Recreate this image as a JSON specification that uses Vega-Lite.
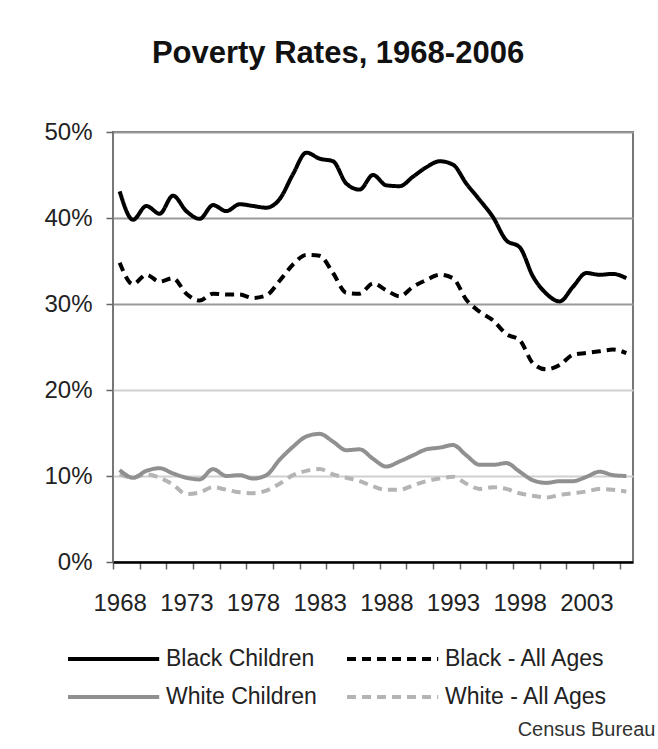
{
  "$schema": "https://vega.github.io/schema/vega-lite/v6.json",
  "width": 520,
  "height": 430,
  "autosize": {"type": "none"},
  "padding": {"left": 113, "top": 132, "right": 25, "bottom": 187},
  "background": "white",
  "config": {"font": "Liberation Sans", "view": {"stroke": "#777777", "strokeWidth": 2}},
  "title": {"text": "Poverty Rates, 1968-2006", "fontSize": 31, "fontWeight": "bold", "color": "#111111", "anchor": "middle", "dx": -35, "offset": 50},
  "datasets": {
    "rates": [
      {"year": 1968, "Black Children": 43.1, "Black - All Ages": 34.8, "White Children": 10.7, "White - All Ages": 10.2},
      {"year": 1969, "Black Children": 39.8, "Black - All Ages": 32.3, "White Children": 9.8, "White - All Ages": 9.8},
      {"year": 1970, "Black Children": 41.4, "Black - All Ages": 33.4, "White Children": 10.6, "White - All Ages": 10.2},
      {"year": 1971, "Black Children": 40.5, "Black - All Ages": 32.6, "White Children": 10.9, "White - All Ages": 9.8},
      {"year": 1972, "Black Children": 42.6, "Black - All Ages": 33.0, "White Children": 10.3, "White - All Ages": 9.0},
      {"year": 1973, "Black Children": 40.8, "Black - All Ages": 31.2, "White Children": 9.8, "White - All Ages": 7.9},
      {"year": 1974, "Black Children": 39.9, "Black - All Ages": 30.4, "White Children": 9.6, "White - All Ages": 8.1},
      {"year": 1975, "Black Children": 41.5, "Black - All Ages": 31.2, "White Children": 10.8, "White - All Ages": 8.7},
      {"year": 1976, "Black Children": 40.8, "Black - All Ages": 31.1, "White Children": 10.0, "White - All Ages": 8.4},
      {"year": 1977, "Black Children": 41.6, "Black - All Ages": 31.1, "White Children": 10.1, "White - All Ages": 8.1},
      {"year": 1978, "Black Children": 41.4, "Black - All Ages": 30.7, "White Children": 9.7, "White - All Ages": 8.0},
      {"year": 1979, "Black Children": 41.2, "Black - All Ages": 31.0, "White Children": 10.1, "White - All Ages": 8.3},
      {"year": 1980, "Black Children": 42.2, "Black - All Ages": 32.7, "White Children": 11.9, "White - All Ages": 9.1},
      {"year": 1981, "Black Children": 45.1, "Black - All Ages": 34.6, "White Children": 13.4, "White - All Ages": 10.1},
      {"year": 1982, "Black Children": 47.6, "Black - All Ages": 35.7, "White Children": 14.6, "White - All Ages": 10.6},
      {"year": 1983, "Black Children": 46.9, "Black - All Ages": 35.6, "White Children": 14.9, "White - All Ages": 10.8},
      {"year": 1984, "Black Children": 46.6, "Black - All Ages": 33.6, "White Children": 14.0, "White - All Ages": 10.2},
      {"year": 1985, "Black Children": 44.0, "Black - All Ages": 31.3, "White Children": 13.0, "White - All Ages": 9.8},
      {"year": 1986, "Black Children": 43.3, "Black - All Ages": 31.2, "White Children": 13.1, "White - All Ages": 9.4},
      {"year": 1987, "Black Children": 45.0, "Black - All Ages": 32.4, "White Children": 12.0, "White - All Ages": 8.8},
      {"year": 1988, "Black Children": 43.8, "Black - All Ages": 31.6, "White Children": 11.1, "White - All Ages": 8.4},
      {"year": 1989, "Black Children": 43.7, "Black - All Ages": 30.9, "White Children": 11.7, "White - All Ages": 8.4},
      {"year": 1990, "Black Children": 44.8, "Black - All Ages": 32.0, "White Children": 12.4, "White - All Ages": 8.9},
      {"year": 1991, "Black Children": 45.9, "Black - All Ages": 32.8, "White Children": 13.1, "White - All Ages": 9.4},
      {"year": 1992, "Black Children": 46.6, "Black - All Ages": 33.4, "White Children": 13.3, "White - All Ages": 9.7},
      {"year": 1993, "Black Children": 46.2, "Black - All Ages": 33.0, "White Children": 13.6, "White - All Ages": 9.9},
      {"year": 1994, "Black Children": 44.0, "Black - All Ages": 30.5, "White Children": 12.4, "White - All Ages": 9.1},
      {"year": 1995, "Black Children": 42.1, "Black - All Ages": 29.1, "White Children": 11.3, "White - All Ages": 8.5},
      {"year": 1996, "Black Children": 40.1, "Black - All Ages": 28.1, "White Children": 11.3, "White - All Ages": 8.7},
      {"year": 1997, "Black Children": 37.4, "Black - All Ages": 26.5, "White Children": 11.5, "White - All Ages": 8.5},
      {"year": 1998, "Black Children": 36.6, "Black - All Ages": 25.8, "White Children": 10.5, "White - All Ages": 8.0},
      {"year": 1999, "Black Children": 33.2, "Black - All Ages": 23.1, "White Children": 9.5, "White - All Ages": 7.7},
      {"year": 2000, "Black Children": 31.2, "Black - All Ages": 22.4, "White Children": 9.2, "White - All Ages": 7.5},
      {"year": 2001, "Black Children": 30.3, "Black - All Ages": 22.9, "White Children": 9.4, "White - All Ages": 7.8},
      {"year": 2002, "Black Children": 32.0, "Black - All Ages": 24.1, "White Children": 9.4, "White - All Ages": 8.0},
      {"year": 2003, "Black Children": 33.6, "Black - All Ages": 24.3, "White Children": 9.9, "White - All Ages": 8.2},
      {"year": 2004, "Black Children": 33.4, "Black - All Ages": 24.5, "White Children": 10.5, "White - All Ages": 8.5},
      {"year": 2005, "Black Children": 33.5, "Black - All Ages": 24.7, "White Children": 10.1, "White - All Ages": 8.4},
      {"year": 2006, "Black Children": 33.0, "Black - All Ages": 24.3, "White Children": 10.0, "White - All Ages": 8.2}
    ]
  },
  "data": {"name": "rates"},
  "transform": [
    {"fold": ["White - All Ages", "White Children", "Black - All Ages", "Black Children"], "as": ["series", "value"]}
  ],
  "mark": {"type": "line", "strokeWidth": 4, "interpolate": "monotone"},
  "encoding": {
    "x": {
      "field": "year",
      "type": "quantitative",
      "scale": {"domain": [1967.5, 2006.5], "nice": false, "zero": false},
      "axis": {
        "values": [1967.5, 1968, 1969.5, 1971.5, 1973, 1973.5, 1975.5, 1977.5, 1978, 1979.5, 1981.5, 1983, 1983.5, 1985.5, 1987.5, 1988, 1989.5, 1991.5, 1993, 1993.5, 1995.5, 1997.5, 1998, 1999.5, 2001.5, 2003, 2003.5, 2005.5],
        "format": "d",
        "labelExpr": "datum.value % 1 === 0 ? datum.label : ''",
        "labelFontSize": 24,
        "labelColor": "#222222",
        "labelPadding": 22,
        "labelOverlap": false,
        "labelBound": false,
        "labelFlush": false,
        "tickSize": 7,
        "tickColor": "#666666",
        "tickWidth": 1.5,
        "tickOpacity": {"condition": {"test": "datum.value % 1 === 0", "value": 0}, "value": 1},
        "domainColor": "#000000",
        "domainWidth": 2.5,
        "grid": false,
        "title": "Census Bureau",
        "titleFontSize": 20,
        "titleFontWeight": "normal",
        "titleColor": "#333333",
        "titleAnchor": "end",
        "titleAlign": "right",
        "titleX": 542,
        "titleY": 173,
        "titleBaseline": "alphabetic"
      }
    },
    "y": {
      "field": "value",
      "type": "quantitative",
      "scale": {"domain": [0, 50], "nice": false},
      "axis": {
        "values": [0, 10, 20, 30, 40, 50],
        "labelExpr": "datum.value + '%'",
        "labelFontSize": 24,
        "labelColor": "#222222",
        "labelPadding": 14,
        "tickSize": 7,
        "tickColor": "#666666",
        "tickWidth": 1.5,
        "domain": false,
        "gridColor": {"condition": {"test": "datum.value >= 30", "value": "#9a9a9a"}, "value": "#cfcfcf"},
        "gridWidth": 2,
        "title": null
      }
    },
    "color": {
      "field": "series",
      "type": "nominal",
      "scale": {"domain": ["Black Children", "White Children", "Black - All Ages", "White - All Ages"], "range": ["#000000", "#909090", "#000000", "#b4b4b4"]},
      "legend": {"orient": "none", "legendX": -47, "legendY": 513, "columns": 2, "columnPadding": 22, "rowPadding": 12, "symbolType": "M-1,0H6.6", "symbolSize": 576, "symbolStrokeWidth": 4, "symbolFillColor": "transparent", "labelFontSize": 23, "labelColor": "#222222", "labelOffset": 72, "labelLimit": 300, "title": null,
        "encode": {"symbols": {"update": {"strokeDash": {"signal": "indexof(datum.value, 'All') >= 0 ? [5, 24] : [1, 0]"}}}}}
    },
    "strokeDash": {
      "field": "series",
      "type": "nominal",
      "scale": {"domain": ["Black Children", "White Children", "Black - All Ages", "White - All Ages"], "range": [[1, 0], [1, 0], [9, 6], [9, 6]]},
      "legend": null
    }
  }
}
